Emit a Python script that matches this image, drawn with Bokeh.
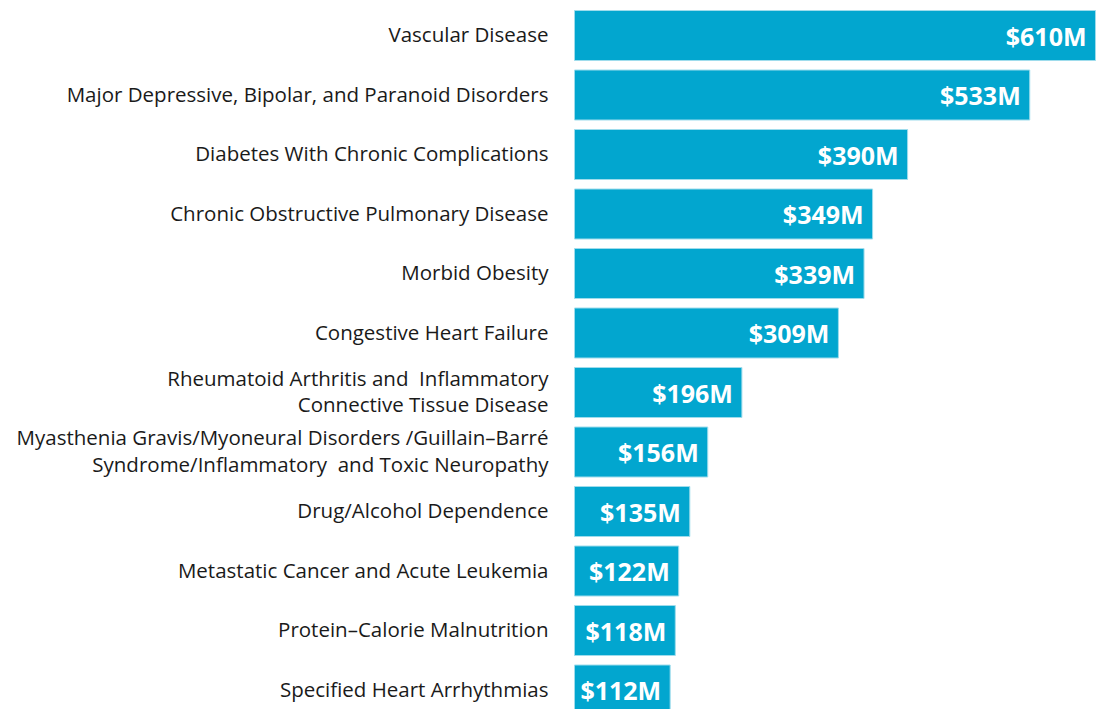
from bokeh.plotting import figure
from bokeh.models import ColumnDataSource, Range1d
from bokeh.core.properties import value
from bokeh.embed import file_html
from bokeh.resources import INLINE

categories = [
    "Vascular Disease",
    "Major Depressive, Bipolar, and Paranoid Disorders",
    "Diabetes With Chronic Complications",
    "Chronic Obstructive Pulmonary Disease",
    "Morbid Obesity",
    "Congestive Heart Failure",
    "Rheumatoid Arthritis and\u00a0 Inflammatory\nConnective Tissue Disease",
    "Myasthenia Gravis/Myoneural Disorders /Guillain\u2013Barr\u00e9\nSyndrome/Inflammatory\u00a0 and Toxic Neuropathy",
    "Drug/Alcohol Dependence",
    "Metastatic Cancer and Acute Leukemia",
    "Protein\u2013Calorie Malnutrition",
    "Specified Heart Arrhythmias",
]
values = [610, 533, 390, 349, 339, 309, 196, 156, 135, 122, 118, 112]
value_labels = ["$%dM" % v for v in values]

W, H = 1096, 709
px_per_unit = 521 / 610.0
left_px = 574
pitch = 59.5
first_center = 35

src = ColumnDataSource(dict(
    y=list(range(len(categories))),
    v=values,
    cat=categories,
    lab=value_labels,
    zero=[0] * len(values),
))

p = figure(
    width=W, height=H,
    x_range=Range1d(-left_px / px_per_unit, (W - left_px) / px_per_unit),
    y_range=Range1d((H - first_center) / pitch, -first_center / pitch),
    output_backend="svg", toolbar_location=None,
    min_border=0, min_border_left=0, min_border_right=0,
    min_border_top=0, min_border_bottom=0,
)
p.xaxis.visible = False
p.yaxis.visible = False
p.grid.visible = False
p.outline_line_color = None
p.background_fill_color = "white"
p.border_fill_color = "white"

p.hbar(y="y", left="zero", right="v", height=50 / pitch, source=src,
       fill_color="#02A6CF", line_color="#9EDCEC", line_width=1)

p.text(x="zero", y="y", text="cat", source=src, x_offset=-26, y_offset=-1.5,
       text_align="right", text_baseline="middle",
       text_font=value("Open Sans"), text_font_size="20.5px",
       text_color="#1a1a1a", text_line_height=0.93)

p.text(x="v", y="y", text="lab", source=src, x_offset=-9, y_offset=0,
       text_align="right", text_baseline="middle",
       text_font=value("Open Sans"), text_font_style="bold",
       text_font_size="25px", text_color="white")

open("out.html", "w").write(file_html(p, INLINE))
